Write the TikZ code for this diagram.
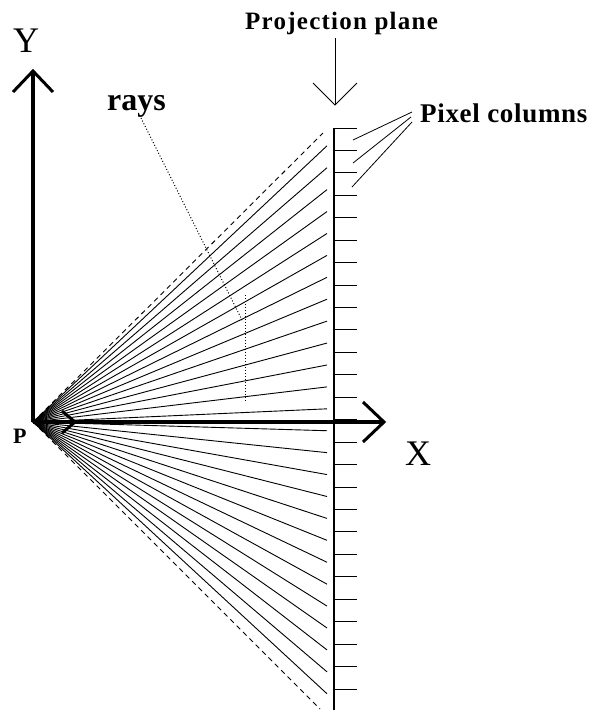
\documentclass[tikz,border=0pt]{standalone}
\usepackage{fontspec}
\setmainfont{Liberation Serif}
\newfontfamily\projfont[LetterSpace=5]{Liberation Serif}
\newfontfamily\pixfont[LetterSpace=2.5]{Liberation Serif}
\usetikzlibrary{calc}
\begin{document}
\begin{tikzpicture}[x=1pt,y=-1pt,
  axis/.style={line width=4pt},
  head/.style={line width=3pt, line join=miter},
  ray/.style={line width=0.9pt},
  edgeray/.style={line width=0.9pt, dash pattern=on 5pt off 4pt},
  plane/.style={line width=1.5pt},
  tickmark/.style={line width=1pt},
  leader/.style={line width=0.8pt},
  dotleader/.style={line width=1pt, dash pattern=on 1pt off 2pt},
  lbl/.style={inner sep=0pt, anchor=base west}
]
\useasboundingbox (0,0) rectangle (592,710);

% key points
\coordinate (P) at (33,422);
\coordinate (Yend) at (33,73);
\coordinate (Ytip) at (33,71);
\coordinate (Xend) at (382,422);
\coordinate (Xtip) at (384,422);
\coordinate (Stip) at (75,422);
\coordinate (PlTop) at (334,128);
\coordinate (PlBot) at (334,710);

% rays
\foreach \k in {0,...,25}{
  \pgfmathsetmacro{\c}{128+(\k+0.5)*22.44}
  \pgfmathsetmacro{\ye}{422+(\c-422)/301*294}
  \coordinate (r\k) at (327,\ye);
  \draw[ray] (P) -- (r\k);
}
\coordinate (dTop) at (323,133);
\coordinate (dBot) at (320,709);
\draw[edgeray] (P) -- (dTop);
\draw[edgeray] (P) -- (dBot);

% projection plane and pixel column ticks
\draw[plane] (PlTop) -- (PlBot);
\foreach \k in {0,...,25}{
  \coordinate (t\k) at (334,128+\k*22.44);
  \draw[tickmark] (t\k) -- ++(23,0);
}

% axes
\draw[axis] (P) -- (Yend);
\draw[head] ($(Ytip)+(-20,21)$) -- (Ytip) -- ($(Ytip)+(20,21)$);
\draw[axis] (P) -- (Xend);
\draw[head] ($(Xtip)+(-21,-20)$) -- (Xtip) -- ($(Xtip)+(-21,20)$);
\draw[head] (P) -- (Stip);
\draw[head] ($(Stip)+(-13,-11)$) -- (Stip) -- ($(Stip)+(-13,11)$);

% projection plane label arrow
\node[lbl, font=\projfont\bfseries\fontsize{25}{25}\selectfont] (projlbl) at (245,29) {Projection plane};
\coordinate (pa) at (335,38);
\coordinate (pb) at (335,105);
\draw[line width=1pt] (pa) -- (pb);
\draw[line width=1pt] ($(pb)+(-22,-22)$) -- (pb) -- ($(pb)+(22,-22)$);

% pixel columns
\node[lbl, font=\pixfont\bfseries\fontsize{27}{27}\selectfont] (pixlbl) at (420,122) {Pixel columns};
\coordinate (pl1) at (412,112);
\coordinate (pl2) at (411,117);
\coordinate (pl3) at (412,122);
\coordinate (pc1) at (353,140);
\coordinate (pc2) at (353,163);
\coordinate (pc3) at (352,187);
\draw[leader] (pl1) -- (pc1);
\draw[leader] (pl2) -- (pc2);
\draw[leader] (pl3) -- (pc3);

% rays label
\node[lbl, font=\bfseries\fontsize{32}{32}\selectfont] (rayslbl) at (107,110) {rays};
\coordinate (ra) at (141,118);
\coordinate (rb) at (243,322);
\coordinate (rc) at (245,295);
\coordinate (rd) at (245,402);
\draw[dotleader] (ra) -- (rb);
\draw[dotleader] (rc) -- (rd);

% axis labels
\node[lbl, font=\fontsize{36}{36}\selectfont] (ylbl) at (13,52) {Y};
\node[lbl, font=\fontsize{36}{36}\selectfont] (xlbl) at (405,465) {X};
\node[lbl, font=\bfseries\fontsize{22}{22}\selectfont] (plbl) at (13,443) {P};
\end{tikzpicture}
\end{document}
